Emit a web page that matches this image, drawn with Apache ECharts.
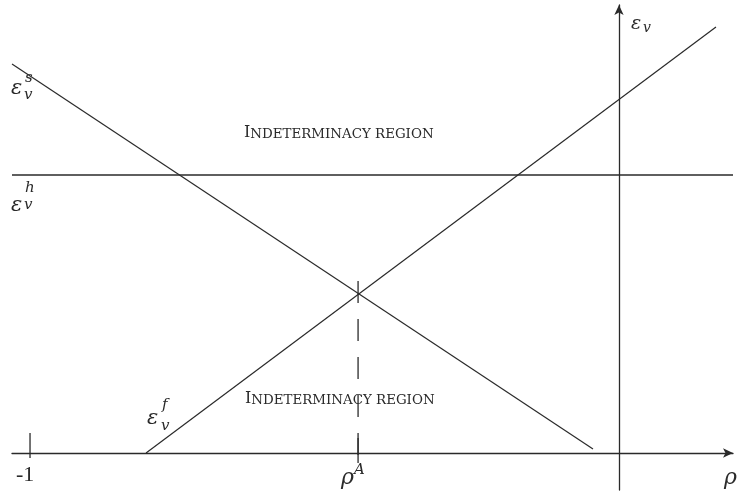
<!DOCTYPE html>
<html>
<head>
<meta charset="utf-8">
<script src="https://cdn.jsdelivr.net/npm/echarts@6/dist/echarts.min.js"></script>
<style>html,body{margin:0;padding:0;background:#fff}#c{width:738px;height:497px}</style>
</head>
<body>
<div id="c"></div>
<script>
// ---- data (abstract units: rho on x, epsilon_v on y; eps_h = 1) ----
const xRange = [-1.0306, 0.1936];
const yRange = [-0.1331, 1.6115];
const epsS = [[-1.0306, 1.399], [-0.0441, 0.0144]];   // eps_v^s line
const epsF = [[-0.803, 0.0], [0.1647, 1.532]];        // eps_v^f line
const epsH = [[-1.0306, 1.0], [0.1936, 1.0]];         // eps_v^h level
const rhoA = -0.443;
const dashA = [[rhoA, 0.6187], [rhoA, -0.007]];       // dashed drop line at rho^A
const tickMinus1 = [[-1, 0.072], [-1, -0.018]];
const tickRhoA = [[rhoA, 0.054], [rhoA, -0.036]];

const ink = '#2a2a2a';
const serif = '"Liberation Serif", "DejaVu Serif", serif';
const mathFont = '"DejaVu Serif", "Liberation Serif", serif';

function seg(data, extra) {
  return Object.assign({
    type: 'line', data: data, symbol: 'none', silent: true,
    lineStyle: { color: ink, width: 1.2 }, animation: false
  }, extra || {});
}
function txt(t, x, y, size, italic, font) {
  return {
    type: 'text', x: x, y: y, silent: true,
    style: { text: t, fill: ink, font: (italic ? 'italic ' : '') + size + 'px ' + (font || mathFont),
             textVerticalAlign: 'top' }
  };
}
function smallCaps(x, y) {
  return {
    type: 'text', x: x, y: y, silent: true,
    style: {
      text: '{a|I}{b|NDETERMINACY REGION}',
      fill: ink, textVerticalAlign: 'top',
      rich: {
        a: { fontFamily: mathFont, fontSize: 16, fill: ink, verticalAlign: 'bottom' },
        b: { fontFamily: mathFont, fontSize: 13.4, fill: ink, verticalAlign: 'bottom' }
      }
    }
  };
}

const chart = echarts.init(document.getElementById('c'));
chart.setOption({
  backgroundColor: '#fff',
  animation: false,
  grid: { left: 12, right: 5, top: 5, bottom: 7 },
  xAxis: {
    type: 'value', min: xRange[0], max: xRange[1],
    axisLine: { onZero: true, symbol: ['none', 'arrow'], symbolSize: [7, 10],
                lineStyle: { color: ink, width: 1.3 } },
    axisTick: { show: false }, axisLabel: { show: false }, splitLine: { show: false }
  },
  yAxis: {
    type: 'value', min: yRange[0], max: yRange[1],
    axisLine: { onZero: true, symbol: ['none', 'arrow'], symbolSize: [7, 10],
                lineStyle: { color: ink, width: 1.3 } },
    axisTick: { show: false }, axisLabel: { show: false }, splitLine: { show: false }
  },
  series: [
    seg(epsS),
    seg(epsF),
    seg(epsH, { lineStyle: { color: ink, width: 1.3 } }),
    seg(dashA, { lineStyle: { color: ink, width: 1.3, type: [22, 16] } }),
    seg(tickMinus1, { lineStyle: { color: ink, width: 1.3 } }),
    seg(tickRhoA, { lineStyle: { color: ink, width: 1.3 } })
  ],
  graphic: [
    // eps_v^s
    txt('\u03b5', 11, 78, 21, true),
    txt('s', 25, 71, 15, true),
    txt('v', 24, 88, 15, true),
    // eps_v^h
    txt('\u03b5', 11, 195, 21, true),
    txt('h', 25, 181, 15, true),
    txt('v', 24, 198, 15, true),
    // eps_v^f
    txt('\u03b5', 147, 408, 21, true),
    txt('f', 162, 398, 15, true),
    txt('v', 161, 419, 15, true),
    // eps_v axis label
    txt('\u03b5', 631, 15, 19, true),
    txt('v', 643, 21, 14, true),
    // x labels
    txt('-1', 16, 464, 22, false, serif),
    txt('\u03c1', 341, 467, 22, true),
    txt('A', 354, 463, 15, true),
    txt('\u03c1', 724, 467, 22, true),
    // region labels
    smallCaps(244, 125),
    smallCaps(245, 391)
  ]
});
</script>
</body>
</html>
